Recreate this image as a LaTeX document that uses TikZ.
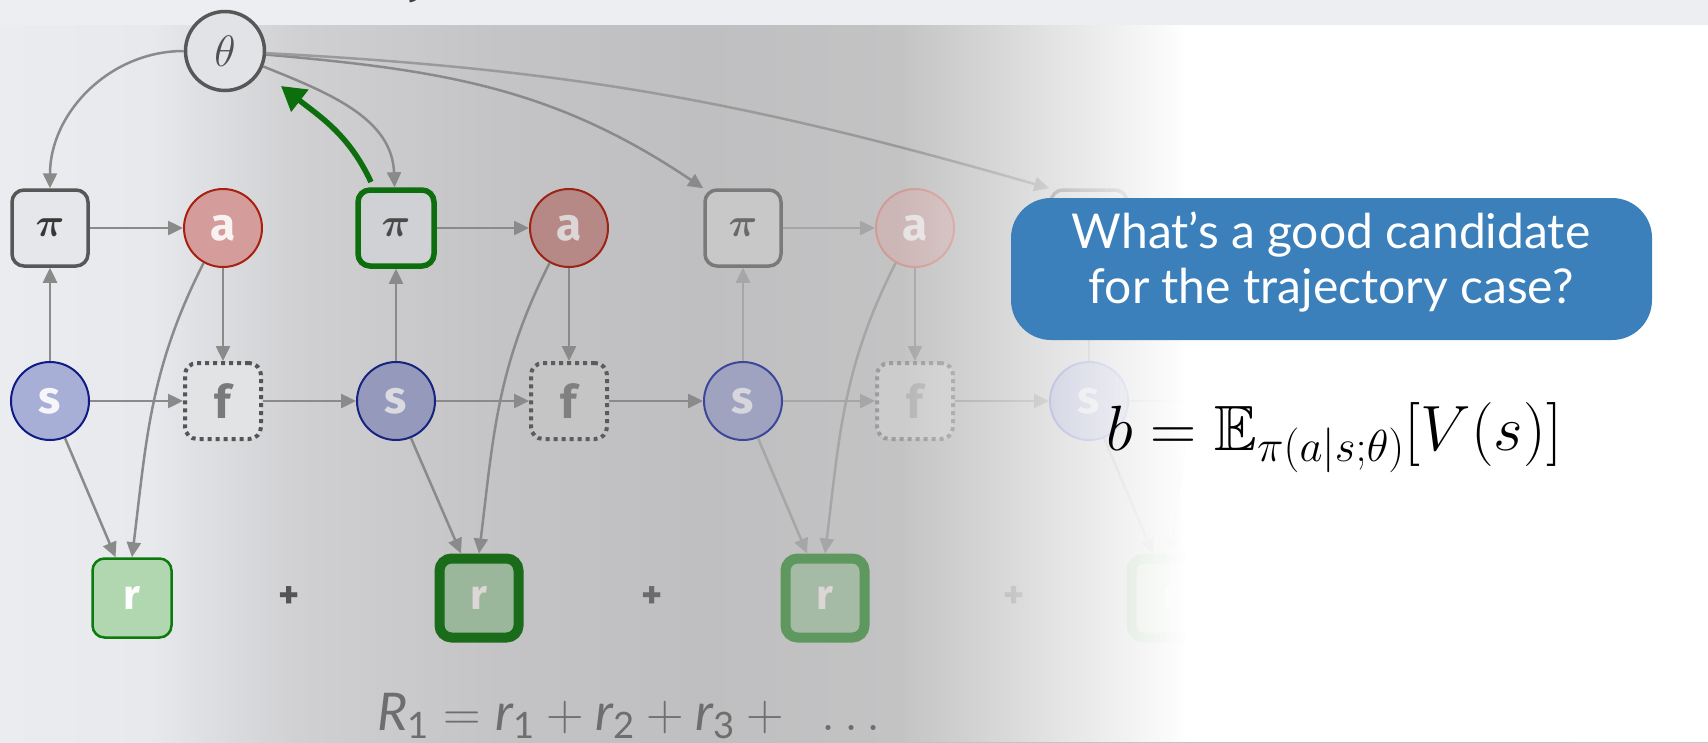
\RequirePackage{fix-cm}
\documentclass[tikz,border=0pt]{standalone}
\usepackage{amsmath,amssymb}
\DeclareFontFamily{U}{msb}{}
\DeclareFontShape{U}{msb}{m}{n}{<-> msbm10}{}
\usepackage{fontspec}
\newfontfamily\lblfont{Fira Sans}
\newfontfamily\callfont{Lato}
\newfontfamily\formfont{Lato}
\usetikzlibrary{arrows.meta}

\definecolor{bgc}{HTML}{EDEEF2}
\definecolor{p0}{HTML}{EBECF0}
\definecolor{p1}{HTML}{E8E9ED}
\definecolor{p2}{HTML}{DFE0E3}
\definecolor{p3}{HTML}{D0D0D3}
\definecolor{p4}{HTML}{C4C4C6}
\definecolor{p5}{HTML}{BFBFC1}
\definecolor{p6}{HTML}{C3C3C4}
\definecolor{p7}{HTML}{C6C6C6}
\pgfdeclarehorizontalshading{panel}{100bp}{color(0bp)=(p0); color(25bp)=(p0); color(29.39bp)=(p1); color(30.85bp)=(p2); color(33.78bp)=(p3); color(39.64bp)=(p4); color(45.49bp)=(p5); color(51.35bp)=(p6); color(75bp)=(p7); color(100bp)=(p7)}

\definecolor{ecA}{HTML}{8A8A8A}
\definecolor{ec3}{HTML}{A6A6A6}
\definecolor{ec4}{HTML}{A4A4A4}
\definecolor{ecT}{HTML}{9A9A9A}
\definecolor{thb}{HTML}{575757}
\definecolor{thf}{HTML}{E2E3E6}
\definecolor{tht}{HTML}{505050}
\definecolor{pib1}{HTML}{575757}
\definecolor{pif1}{HTML}{E6E7EA}
\definecolor{pit1}{HTML}{383838}
\definecolor{gdark}{HTML}{0D6E0D}
\definecolor{pif2}{HTML}{D0D1D4}
\definecolor{pit2}{HTML}{4A4A4A}
\definecolor{pib3}{HTML}{7A7A7A}
\definecolor{pif3}{HTML}{C8C8C9}
\definecolor{pit3}{HTML}{6A6A6A}
\definecolor{af1}{HTML}{D49C9A}
\definecolor{ab1}{HTML}{A8200F}
\definecolor{at1}{HTML}{F8F2F2}
\definecolor{af2}{HTML}{B68886}
\definecolor{ab2}{HTML}{9C2414}
\definecolor{at2}{HTML}{DCD6D6}
\definecolor{af3}{HTML}{CDB6B6}
\definecolor{ab3}{HTML}{D09C94}
\definecolor{at3}{HTML}{E6E2E2}
\definecolor{sf1}{HTML}{A8AFD6}
\definecolor{sb1}{HTML}{0F1B86}
\definecolor{st1}{HTML}{F6F6FA}
\definecolor{sf2}{HTML}{9599BB}
\definecolor{sb2}{HTML}{16237F}
\definecolor{st2}{HTML}{DADAE0}
\definecolor{sf3}{HTML}{9FA3C0}
\definecolor{sb3}{HTML}{3A479B}
\definecolor{st3}{HTML}{D6D6DC}
\definecolor{sf4}{HTML}{A9ADC8}
\definecolor{sb4}{HTML}{7F88C0}
\definecolor{ff1}{HTML}{E2E3E5}
\definecolor{fb1}{HTML}{555555}
\definecolor{ft1}{HTML}{7A7A7A}
\definecolor{ff2}{HTML}{C5C5C6}
\definecolor{fb2}{HTML}{5C5C5C}
\definecolor{ft2}{HTML}{808080}
\definecolor{ff3}{HTML}{CCCCCC}
\definecolor{fb3}{HTML}{9C9C9C}
\definecolor{ft3}{HTML}{B5B5B5}
\definecolor{rf1}{HTML}{B0D7AF}
\definecolor{rb1}{HTML}{0C7A0C}
\definecolor{rf2}{HTML}{9BB79B}
\definecolor{rb2}{HTML}{1A6B1A}
\definecolor{rf3}{HTML}{A6BBA6}
\definecolor{rb3}{HTML}{5E985E}
\definecolor{rf4}{HTML}{B5C8B5}
\definecolor{rb4}{HTML}{8AB08A}
\definecolor{callblue}{HTML}{3B80BA}
\definecolor{formgray}{HTML}{6E6E6E}

\begin{document}
\begin{tikzpicture}[x=1pt,y=1pt,
  edge/.style={draw=ecA, line width=2.5pt, -{Triangle[length=15pt,width=14pt]}},
  pibox/.style={draw, rectangle, rounded corners=12pt, minimum width=76pt, minimum height=76pt, inner sep=0pt, line width=3.5pt, font=\fontsize{40}{40}\selectfont},
  dotbox/.style={draw, rectangle, rounded corners=12pt, minimum width=76pt, minimum height=76pt, inner sep=0pt, line width=4pt, dash pattern=on 4pt off 4pt, font=\lblfont\bfseries\fontsize{46}{46}\selectfont},
  rbox/.style={draw, rectangle, rounded corners=12pt, minimum width=79pt, minimum height=79pt, inner sep=0pt, font=\lblfont\bfseries\fontsize{42}{42}\selectfont},
  circ/.style={draw, circle, minimum size=78pt, inner sep=0pt, line width=2pt, font=\lblfont\bfseries\fontsize{46}{46}\selectfont},
  plus/.style={font=\lblfont\bfseries\fontsize{40}{40}\selectfont, inner sep=0pt},
]
\useasboundingbox (0,0) rectangle (1708,-742);
\fill[bgc] (0,0) rectangle (1708,-742);
\shade[shading=panel] (0,-25) rectangle (1708,-742);

% ---------- nodes ----------
\node[circle, draw=thb, fill=thf, line width=3.5pt, minimum size=79pt, inner sep=0pt, text=tht, font=\fontsize{44}{44}\selectfont] (theta) at (225,-51) {$\theta$};

\node[pibox, draw=pib1, fill=pif1, text=pit1] (pi1) at (50,-228) {$\boldsymbol{\pi}$};
\node[pibox, draw=gdark, line width=5.5pt, fill=pif2, text=pit2] (pi2) at (396,-228) {$\boldsymbol{\pi}$};
\node[pibox, draw=pib3, fill=pif3, text=pit3] (pi3) at (743,-228) {$\boldsymbol{\pi}$};
\node[pibox, draw=pib3, fill=pif3] (pi4) at (1089,-228) {};

\node[circ, draw=ab1, fill=af1, text=at1] (a1) at (223,-228) {a};
\node[circ, draw=ab2, fill=af2, text=at2] (a2) at (569,-228) {a};
\node[circ, draw=ab3, fill=af3, text=at3] (a3) at (915,-228) {a};

\node[circ, draw=sb1, fill=sf1, text=st1] (s1) at (50,-401) {s};
\node[circ, draw=sb2, fill=sf2, text=st2] (s2) at (396,-401) {s};
\node[circ, draw=sb3, fill=sf3, text=st3] (s3) at (743,-401) {s};
\node[circ, draw=sb4, fill=sf4, text=st3] (s4) at (1089,-401) {s};

\node[dotbox, draw=fb1, fill=ff1, text=ft1] (f1) at (223,-401) {f};
\node[dotbox, draw=fb2, fill=ff2, text=ft2] (f2) at (569,-401) {f};
\node[dotbox, draw=fb3, fill=ff3, text=ft3] (f3) at (915,-401) {f};

\node[rbox, draw=rb1, fill=rf1, line width=2.5pt, text=white] (r1) at (132,-598) {r};
\node[rbox, draw=rb2, fill=rf2, line width=10pt, text=at2] (r2) at (479,-598) {r};
\node[rbox, draw=rb3, fill=rf3, line width=10pt, text=at2] (r3) at (825,-598) {r};
\node[rbox, draw=rb4, fill=rf4, line width=10pt, text=at2] (r4) at (1171,-598) {r};

\node[plus, text=black!67] (pl1) at (289,-598) {+};
\node[plus, text=black!58] (pl2) at (652,-598) {+};
\node[plus, text=black!37] (pl3) at (1014,-598) {+};

\coordinate (g1) at (371,-182);
\coordinate (g2) at (281,-86);
\coordinate (a4c) at (1242,-264);
\coordinate (f4c) at (1222,-401);

% ---------- edges ----------
\draw[edge] (theta) to[out=180,in=90] (pi1);
\draw[edge] (theta) to[out=-22,in=92] (pi2);
\draw[edge] (theta) to[out=-5,in=146] (pi3.north west);
\draw[edge, draw=ecT] (theta) to[out=-3,in=164] (pi4.north west);
\draw[draw=gdark, line width=5.5pt, -{Triangle[length=24pt,width=27pt]}] (g1) to[out=115,in=-38] (g2);

\draw[edge] (pi1) -- (a1);
\draw[edge] (s1) -- (pi1);
\draw[edge] (a1) -- (f1);
\draw[edge] (s1) -- (f1);
\draw[edge] (f1) -- (s2);
\draw[edge] (s1.-68) -- (r1.112);
\draw[edge] (a1.241) to[out=-117,in=83] (r1.north);

\draw[edge] (pi2) -- (a2);
\draw[edge] (s2) -- (pi2);
\draw[edge] (a2) -- (f2);
\draw[edge] (s2) -- (f2);
\draw[edge] (f2) -- (s3);
\draw[edge] (s2.-68) -- (r2.112);
\draw[edge] (a2.241) to[out=-117,in=83] (r2.north);

\draw[edge, draw=ec3] (pi3) -- (a3);
\draw[edge, draw=ec3] (s3) -- (pi3);
\draw[edge, draw=ec3] (a3) -- (f3);
\draw[edge, draw=ec3] (s3) -- (f3);
\draw[edge, draw=ec4] (f3) -- (s4);
\draw[edge, draw=ec3] (s3.-68) -- (r3.112);
\draw[edge, draw=ec3] (a3.241) to[out=-117,in=83] (r3.north);

\draw[edge, draw=ec4] (s4) -- (pi4);
\draw[edge, draw=ec4] (s4) -- (f4c);
\draw[edge, draw=ec4] (s4.-68) -- (r4.112);
\draw[edge, draw=ec4] (a4c) to[out=-117,in=83] (r4.north);

% ---------- bottom formula ----------
\node[anchor=base west, inner sep=0pt, text=formgray, font=\fontsize{52}{52}\selectfont] (Rf) at (377,-730)
  {$\text{\formfont\itshape R}_{\text{\formfont 1}} = \text{\formfont\itshape r}_{\text{\formfont 1}} + \text{\formfont\itshape r}_{\text{\formfont 2}} + \text{\formfont\itshape r}_{\text{\formfont 3}} + \enspace \ldots$};

% ---------- white fade on the right ----------
\foreach \i [evaluate=\i as \op using (\i+1)/58] in {0,...,57} {
  \fill[white, opacity=\op] ({900+5*\i},-25) rectangle ({905+5*\i},-742);
}
\fill[white] (1190,-25) rectangle (1708,-742);

% ---------- title fragment ----------
\node[anchor=base, inner sep=0pt, text=black!75, font=\lblfont\fontsize{44}{44}\selectfont] (ttl) at (418,7) {y};

% ---------- callout ----------
\node[draw=none, fill=callblue, rounded corners=40pt, minimum width=641pt, minimum height=142pt, inner sep=0pt] (call) at (1331.5,-269) {};
\node[align=center, text=white, inner sep=0pt, font=\callfont\fontsize{48}{55}\selectfont] (calltxt) at (1331,-262)
  {What’s a good candidate\\ for the trajectory case?};

% ---------- baseline formula ----------
\node[anchor=base west, inner sep=0pt, font=\fontsize{64}{64}\selectfont] (bf) at (1106,-450)
  {$b = \mathbb{E}_{\pi(a|s;\theta)}[V(s)]$};
\end{tikzpicture}
\end{document}
